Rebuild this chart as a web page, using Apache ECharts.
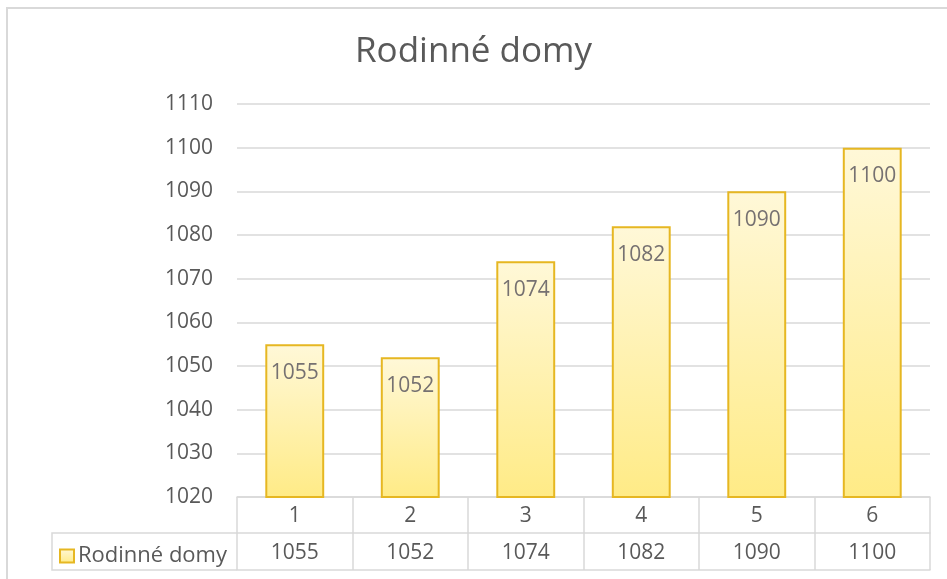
<!DOCTYPE html>
<html>
<head>
<meta charset="utf-8">
<script src="https://cdn.jsdelivr.net/npm/echarts@6/dist/echarts.min.js"></script>
<style>html,body{margin:0;padding:0;background:#fff;}#c{width:947px;height:579px;}</style>
</head>
<body>
<div id="c"></div>
<script>
const title = 'Rodinné domy';
const seriesName = 'Rodinné domy';
const categories = ['1', '2', '3', '4', '5', '6'];
const values = [1055, 1052, 1074, 1082, 1090, 1100];
const yMin = 1020, yMax = 1110, yStep = 10;

const FONT = '"Open Sans", sans-serif';
const GRAY = '#595959';
const LINE = '#D9D9D9';

const chart = echarts.init(document.getElementById('c'), null, {renderer: 'canvas'});
chart.setOption({
  animation: false,
  textStyle: {fontFamily: FONT},
  title: {
    text: title, left: 'center', top: 30,
    textStyle: {fontFamily: FONT, fontSize: 35, fontWeight: 'normal', color: GRAY}
  },
  legend: {
    data: [seriesName], left: 54, top: 540, icon: 'rect',
    itemWidth: 14, itemHeight: 13, itemGap: 0,
    textStyle: {fontFamily: FONT, fontSize: 22, color: GRAY, padding: [0,0,0,-1]}
  },
  grid: {left: 237, right: 17, top: 104, bottom: 82, containLabel: false},
  xAxis: [
    {
      type: 'category', data: categories, position: 'bottom',
      axisLine: {show: true, lineStyle: {color: LINE, width: 1.5}},
      axisTick: {show: true, interval: 0, length: 73, lineStyle: {color: LINE, width: 1.5}},
      axisLabel: {margin: 9, fontFamily: FONT, fontSize: 21, color: GRAY, interval: 0},
      splitLine: {show: false}
    },
    {
      type: 'category', data: values.map(String), position: 'bottom', offset: 36,
      axisLine: {show: true, lineStyle: {color: LINE, width: 1.5}},
      axisTick: {show: false},
      axisLabel: {margin: 10, fontFamily: FONT, fontSize: 21, color: GRAY, interval: 0},
      splitLine: {show: false}
    },
    {
      type: 'category', data: categories, position: 'bottom', offset: 73,
      axisLine: {show: true, lineStyle: {color: LINE, width: 1.5}},
      axisTick: {show: false}, axisLabel: {show: false}, splitLine: {show: false}
    }
  ],
  yAxis: {
    type: 'value', min: yMin, max: yMax, interval: yStep,
    axisLine: {show: false}, axisTick: {show: false},
    axisLabel: {margin: 24, fontFamily: FONT, fontSize: 21, color: GRAY, formatter: v => String(v)},
    splitLine: {show: true, lineStyle: {color: LINE, width: 1.5}}
  },
  series: [{
    name: seriesName, type: 'bar', xAxisIndex: 0, data: values, barWidth: '51%',
    itemStyle: {
      color: new echarts.graphic.LinearGradient(0, 0, 0, 1, [
        {offset: 0, color: '#FFF8D8'},
        {offset: 1, color: '#FFEB86'}
      ]),
      borderColor: '#E6B722', borderWidth: 2
    },
    label: {
      show: true, position: 'insideTop', distance: 18,
      fontFamily: FONT, fontSize: 21, color: '#767171'
    }
  }],
  graphic: [
    {type: 'rect', silent: true, shape: {x: 7, y: 8, width: 1000, height: 700},
     style: {fill: 'none', stroke: LINE, lineWidth: 2}},
    {type: 'polyline', silent: true, shape: {points: [[237, 533], [52, 533], [52, 570], [237, 570]]},
     style: {fill: 'none', stroke: LINE, lineWidth: 1.5}}
  ]
});
</script>
</body>
</html>
